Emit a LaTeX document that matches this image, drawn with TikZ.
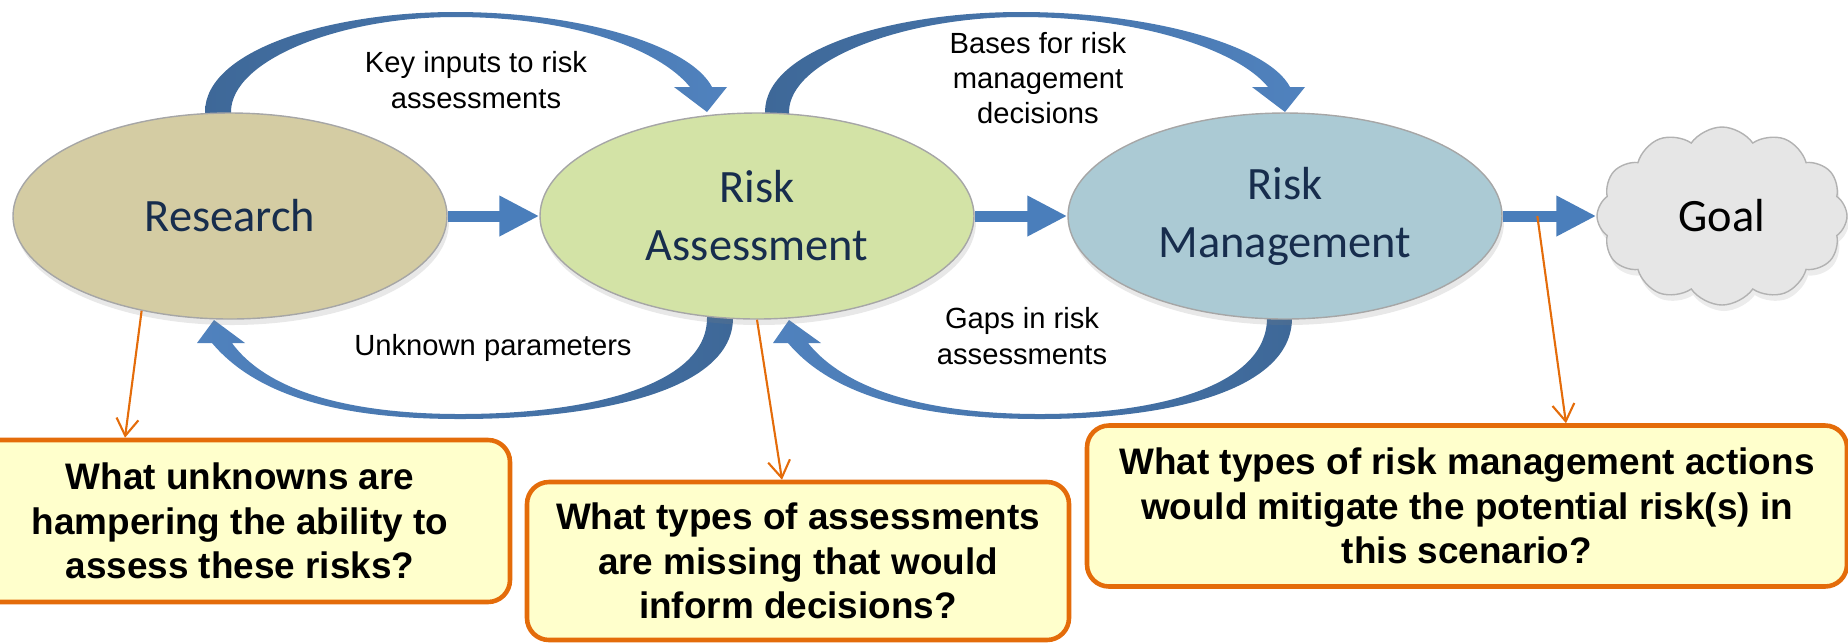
\documentclass[tikz,border=0pt]{standalone}
\usepackage{fontspec}
\setmainfont{Liberation Sans}
\newfontfamily\stagefont{Carlito}
\usetikzlibrary{arrows.meta,shapes.geometric,shapes.symbols,positioning,calc,shadows}
\definecolor{ArcDark}{RGB}{62,104,152}
\definecolor{ArcLight}{RGB}{80,130,190}
\definecolor{FlowBlue}{RGB}{74,126,187}
\definecolor{ResearchTan}{RGB}{212,204,163}
\definecolor{AssessGreen}{RGB}{211,227,166}
\definecolor{ManageBlue}{RGB}{171,202,212}
\definecolor{StageText}{RGB}{23,45,77}
\definecolor{NoteOrange}{RGB}{228,108,10}
\definecolor{NoteYellow}{RGB}{255,255,204}
\definecolor{CloudGray}{RGB}{230,230,230}

\begin{document}
\begin{tikzpicture}[x=0.1mm,y=-0.1mm,
    stage/.style={ellipse,draw=gray!70,thin,minimum width=43.4mm,minimum height=20.6mm,
                  inner sep=0pt,align=center,text=StageText,
                  font=\stagefont\fontsize{13.2}{16.5}\selectfont,
                  drop shadow={shadow xshift=0.2mm,shadow yshift=-0.6mm,opacity=0.18}},
    goalcloud/.style={cloud,cloud puffs=12,cloud puff arc=110,cloud ignores aspect,
                  draw=gray!60,fill=CloudGray,minimum width=25mm,minimum height=17.8mm,
                  inner sep=0pt,font=\stagefont\fontsize{13.2}{16.5}\selectfont,
                  drop shadow={shadow xshift=0.2mm,shadow yshift=-0.6mm,opacity=0.15}},
    flow/.style={draw=FlowBlue,line width=1.1mm,-{Triangle[length=4mm,width=3.8mm]}},
    loop/.style={draw=none},
    lbl/.style={font=\fontsize{8.3}{10}\selectfont,align=center,inner sep=1pt},
    qbox/.style={draw=NoteOrange,line width=1.3pt,fill=NoteYellow,rounded corners=2.2mm,
                 align=center,inner sep=0pt,font=\bfseries\fontsize{10.5}{12.6}\selectfont},
    note/.style={draw=NoteOrange,line width=0.6pt,-{Straight Barb[length=1.7mm,width=2.2mm]}}
  ]
  \useasboundingbox (0,0) rectangle (1848,642);

  % feedback loops (drawn first, stages sit on top)
  \path[loop,left color=ArcDark,right color=ArcLight]
    (205,125) -- (205,112) .. controls (205,50) and (330,12) .. (455,12)
    .. controls (580,12) and (690,45) .. (712,87)
    -- (727,87) -- (707,112) -- (674,87) -- (690,87)
    .. controls (660,50) and (575,17) .. (455,17)
    .. controls (340,17) and (231,60) .. (231,112) -- (231,125) -- cycle;
  \path[loop,left color=ArcDark,right color=ArcLight]
    (765,125) -- (765,112) .. controls (765,50) and (890,12) .. (1021,12)
    .. controls (1150,12) and (1268,45) .. (1290,87)
    -- (1305,87) -- (1285,112) -- (1252,87) -- (1268,87)
    .. controls (1238,50) and (1140,17) .. (1021,17)
    .. controls (905,17) and (789,60) .. (789,112) -- (789,125) -- cycle;
  \path[loop,left color=ArcLight,right color=ArcDark]
    (733,305) -- (733,318) .. controls (733,390) and (600,419) .. (460,419)
    .. controls (350,419) and (260,400) .. (212,343)
    -- (197,343) -- (214,320) -- (245,343) -- (232,343)
    .. controls (270,395) and (360,414) .. (460,414)
    .. controls (590,414) and (707,385) .. (707,318) -- (707,305) -- cycle;
  \path[loop,left color=ArcLight,right color=ArcDark]
    (1292,305) -- (1292,318) .. controls (1292,390) and (1170,419) .. (1040,419)
    .. controls (930,419) and (836,400) .. (788,343)
    -- (773,343) -- (789,320) -- (821,343) -- (808,343)
    .. controls (850,395) and (940,414) .. (1040,414)
    .. controls (1160,414) and (1267,385) .. (1267,318) -- (1267,305) -- cycle;

  \node[lbl] (lblinputs) at (476,80) {Key inputs to risk\\assessments};
  \node[lbl] (lblbases) at (1038,78) {Bases for risk\\management\\decisions};
  \node[lbl] (lblunknown) at (493,348) {Unknown parameters};
  \node[lbl] (lblgaps) at (1022,336) {Gaps in risk\\assessments};

  % stages
  \node[stage,fill=ResearchTan] (research) at (230,216) {Research};
  \node[stage,fill=AssessGreen] (ra) at (757,216) {Risk\\Assessment};
  \node[stage,fill=ManageBlue] (rm) at (1285,216) {Risk\\Management};
  \node[goalcloud] (goal) at (1722,216) {Goal};

  \draw[flow] (research) -- (ra);
  \draw[flow] (ra) -- (rm);
  \draw[flow] (rm) -- (goal);

  % questions
  \node[qbox,minimum width=54mm,minimum height=16.2mm] (q1) at (240,521)
    {What unknowns are\\hampering the ability to\\assess these risks?};
  \node[qbox,minimum width=54.2mm,minimum height=15.8mm] (q2) at (798,561)
    {What types of assessments\\are missing that would\\inform decisions?};
  \node[qbox,minimum width=76mm,minimum height=16.1mm] (q3) at (1467,506)
    {What types of risk management actions\\would mitigate the potential risk(s) in\\this scenario?};

  \draw[note] (research.227) -- (125,0 |- q1.north);
  \draw[note] (ra.south) -- (782,0 |- q2.north);
  \draw[note] ($(rm.east)!0.37!(goal.west)$) -- (1566,0 |- q3.north);
\end{tikzpicture}
\end{document}
